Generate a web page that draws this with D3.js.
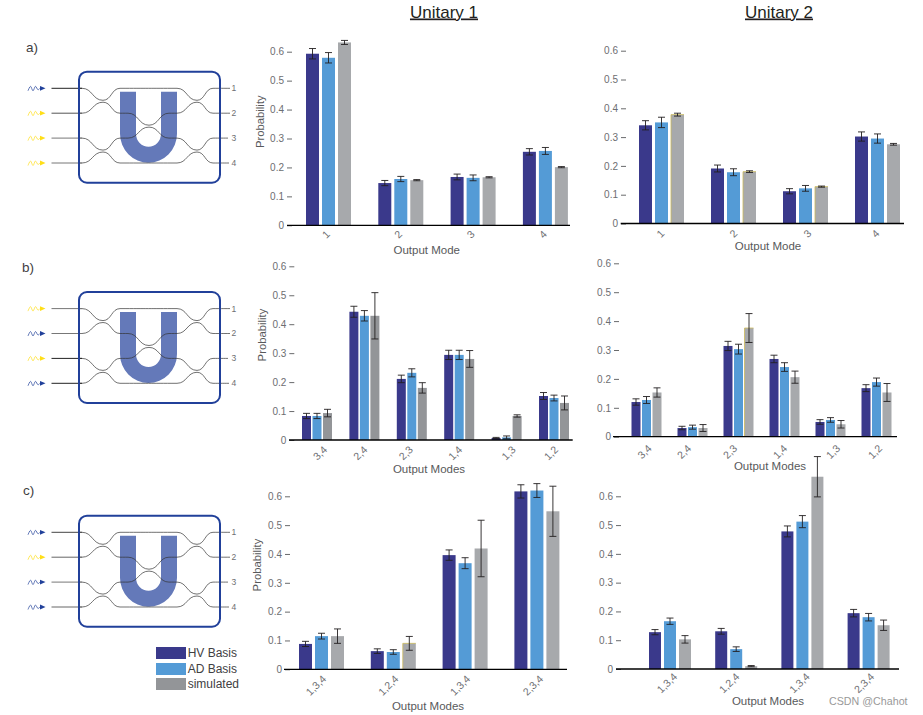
<!DOCTYPE html>
<html>
<head>
<meta charset="utf-8">
<script src="https://cdnjs.cloudflare.com/ajax/libs/d3/7.8.5/d3.min.js"></script>
<style>
  html, body { margin: 0; padding: 0; background: #fff; }
  svg { display: block; font-family: "Liberation Sans", Arial, sans-serif; }
</style>
</head>
<body>
<div id="chart"></div>
<script>
const seriesKeys = ['hv', 'ad', 'sim'];
const legendLabels = ['HV Basis', 'AD Basis', 'simulated'];
const yTicks = [0, 0.1, 0.2, 0.3, 0.4, 0.5, 0.6];

const singleModes = ['1', '2', '3', '4'];
const pairModes = ['3,4', '2,4', '2,3', '1,4', '1,3', '1,2'];
const tripleModes = ['1,3,4', '1,2,4', '1,3,4', '2,3,4'];

// row a
const a1Hv = [0.593, 0.146, 0.167, 0.254];
const a1Ad = [0.579, 0.160, 0.164, 0.257];
const a1Sim = [0.632, 0.156, 0.166, 0.201];
const a1HvErr = [0.018, 0.009, 0.010, 0.011];
const a1AdErr = [0.018, 0.009, 0.010, 0.012];
const a1SimErr = [0.007, 0.002, 0.002, 0.002];

const a2Hv = [0.341, 0.191, 0.112, 0.302];
const a2Ad = [0.351, 0.178, 0.122, 0.295];
const a2Sim = [0.378, 0.180, 0.128, 0.275];
const a2HvErr = [0.016, 0.012, 0.009, 0.016];
const a2AdErr = [0.018, 0.012, 0.010, 0.016];
const a2SimErr = [0.005, 0.003, 0.002, 0.003];

// row b
const b1Hv = [0.083, 0.443, 0.211, 0.294, 0.007, 0.152];
const b1Ad = [0.083, 0.429, 0.232, 0.294, 0.009, 0.145];
const b1Sim = [0.093, 0.429, 0.180, 0.280, 0.083, 0.128];
const b1HvErr = [0.009, 0.019, 0.013, 0.016, 0.002, 0.012];
const b1AdErr = [0.009, 0.018, 0.014, 0.016, 0.005, 0.010];
const b1SimErr = [0.013, 0.080, 0.018, 0.029, 0.004, 0.024];

const b2Hv = [0.120, 0.030, 0.314, 0.269, 0.051, 0.168];
const b2Ad = [0.127, 0.033, 0.303, 0.241, 0.058, 0.189];
const b2Sim = [0.153, 0.030, 0.376, 0.206, 0.043, 0.153];
const b2HvErr = [0.011, 0.006, 0.016, 0.013, 0.008, 0.012];
const b2AdErr = [0.012, 0.007, 0.017, 0.015, 0.008, 0.014];
const b2SimErr = [0.016, 0.012, 0.050, 0.021, 0.013, 0.031];

// row c
const c1Hv = [0.088, 0.063, 0.396, 0.617];
const c1Ad = [0.115, 0.060, 0.368, 0.620];
const c1Sim = [0.115, 0.090, 0.419, 0.548];
const c1HvErr = [0.009, 0.008, 0.018, 0.023];
const c1AdErr = [0.010, 0.008, 0.019, 0.024];
const c1SimErr = [0.025, 0.024, 0.098, 0.087];

const c2Hv = [0.128, 0.131, 0.478, 0.194];
const c2Ad = [0.166, 0.069, 0.512, 0.180];
const c2Sim = [0.103, 0.010, 0.668, 0.152];
const c2HvErr = [0.009, 0.010, 0.019, 0.013];
const c2AdErr = [0.011, 0.008, 0.021, 0.013];
const c2SimErr = [0.013, 0.002, 0.070, 0.018];

const colors = { hv: '#3a398b', ad: '#549bd6', sim: '#a7a9ac' };
const textGrey = '#6d6e71';

const width = 923, height = 715;

const svg = d3.select('#chart').append('svg')
  .attr('width', width)
  .attr('height', height);

function drawPanel(p) {
  const g = svg.append('g');

  const y = d3.scaleLinear().domain([0, 0.6]).range([p.y0, p.y6]);

  // groups are indexed because the triple labels repeat
  const x0 = d3.scaleBand()
    .domain(d3.range(p.labels.length))
    .range([p.c0 - p.step / 2, p.c0 + p.step * (p.labels.length - 0.5)]);
  const span = 3 * p.barW + 2 * p.gap;
  const x1 = d3.scaleBand()
    .domain(seriesKeys)
    .range([-span / 2, span / 2])
    .paddingInner(p.gap / (p.barW + p.gap));

  const rows = p.labels.map((label, i) => seriesKeys.map(k => ({
    key: k, group: i, value: p[k][i], err: p[k + 'Err'][i]
  })));

  const groups = g.selectAll('.group')
    .data(rows)
    .enter().append('g')
    .attr('class', 'group')
    .attr('transform', (d, i) => `translate(${x0(i) + x0.bandwidth() / 2},0)`);

  groups.selectAll('rect')
    .data(d => d)
    .enter().append('rect')
    .attr('x', d => x1(d.key))
    .attr('y', d => y(d.value))
    .attr('width', x1.bandwidth())
    .attr('height', d => p.y0 - y(d.value))
    .attr('fill', d => d.key === 'sim' && p.simColor ? p.simColor : colors[d.key]);

  // yellowish edge some simulated bars have in the original
  groups.filter((d, i) => (p.edged || []).includes(i))
    .append('path')
    .attr('fill', 'none')
    .attr('stroke', '#cdbb5c')
    .attr('stroke-width', 0.8)
    .attr('d', d => {
      const s = d[2];
      return `M${x1('sim')},${p.y0}V${y(s.value)}H${x1('sim') + x1.bandwidth()}`;
    });

  const errs = groups.selectAll('.err')
    .data(d => d)
    .enter().append('g')
    .attr('class', 'err')
    .attr('stroke', '#231f20')
    .attr('stroke-width', 0.9)
    .attr('transform', d => `translate(${x1(d.key) + x1.bandwidth() / 2},0)`);

  errs.append('line')
    .attr('y1', d => y(d.value + d.err))
    .attr('y2', d => y(d.value - d.err));
  errs.append('line')
    .attr('x1', -3.5).attr('x2', 3.5)
    .attr('y1', d => y(d.value + d.err))
    .attr('y2', d => y(d.value + d.err));
  errs.append('line')
    .attr('x1', -3.5).attr('x2', 3.5)
    .attr('y1', d => y(d.value - d.err))
    .attr('y2', d => y(d.value - d.err));

  // y axis sits right of the tick labels, no spine
  const yAxis = g.append('g')
    .attr('transform', `translate(${p.axisX},0)`)
    .call(d3.axisLeft(y)
      .tickValues(yTicks)
      .tickSize(5)
      .tickPadding(3)
      .tickFormat(d => d === 0 ? '0' : d3.format('.1f')(d)));
  yAxis.select('.domain').remove();
  yAxis.selectAll('.tick line').attr('stroke', '#58595b').attr('stroke-width', 0.9);
  yAxis.selectAll('.tick text')
    .attr('fill', textGrey)
    .style('font-size', '10px')
    .style('font-family', '"Liberation Sans", Arial, sans-serif');

  // x axis, labels are turned 45deg and shifted by hand
  const xAxis = g.append('g')
    .attr('transform', `translate(0,${p.y0})`)
    .call(d3.axisBottom(x0)
      .tickSize(0)
      .tickFormat(i => p.labels[i]));
  xAxis.select('.domain').remove();
  xAxis.selectAll('.tick text')
    .attr('y', 0)
    .attr('dy', '0.35em')
    .attr('text-anchor', 'middle')
    .attr('transform', (d, i) => `translate(${p.labelDx[i]},${p.labelDy}) rotate(-45)`)
    .attr('fill', textGrey)
    .style('font-size', '10.5px')
    .style('font-family', '"Liberation Sans", Arial, sans-serif');

  g.append('line')
    .attr('x1', p.lineX[0]).attr('x2', p.lineX[1])
    .attr('y1', p.y0).attr('y2', p.y0)
    .attr('stroke', '#000')
    .attr('stroke-width', 1.3);

  g.append('text')
    .attr('x', p.xTitle[0]).attr('y', p.xTitle[1])
    .attr('text-anchor', 'middle')
    .attr('fill', '#58595b')
    .style('font-size', '11.5px')
    .text(p.xLabel);

  if (p.yTitle) {
    g.append('text')
      .attr('transform', `translate(${p.yTitle[0]},${p.yTitle[1]}) rotate(-90)`)
      .attr('text-anchor', 'middle')
      .attr('fill', '#58595b')
      .style('font-size', '11.3px')
      .text('Probability');
  }
}

const bump = d3.line().curve(d3.curveBumpX);

function drawCircuit(c) {
  const g = svg.append('g').attr('transform', `translate(79,${c.top})`);
  const rowY = i => 16.6 + i * 24.9;
  const w = 141, h = 111;

  // big U under the wires
  g.append('path')
    .attr('fill', '#6479b9')
    .attr('d', 'M41,20 H57 V62 A12.5,13 0 0 0 82,62 V20 H98 V62 A28.5,29 0 0 1 41,62 Z');

  const leftTop = [[0, 0], [3, 0], [24, 12], [41, 0], [98, 0], [118, 12], [134, 0], [151, 0]];
  const leftMid2 = [[0, 1], [3, 1], [24, -11], [41, 1], [49, 1], [70, 12], [90, 1], [98, 1], [118, -11], [134, 1], [151, 1]];
  const leftMid3 = [[0, 2], [3, 2], [24, 12], [41, 2], [49, 2], [70, -11], [90, 2], [98, 2], [118, 12], [134, 2], [149, 2]];
  const leftBot = [[0, 3], [3, 3], [24, -11], [41, 3], [98, 3], [118, -11], [134, 3], [150, 3]];

  // second value of a bend is an offset from the wire's own row
  const wires = [leftTop, leftMid2, leftMid3, leftBot].map((pts, row) => pts.map(pt => {
    const isRow = pt[1] === row;
    return [pt[0], isRow ? rowY(row) : rowY(row) + pt[1]];
  }));

  g.selectAll('.wire')
    .data(wires)
    .enter().append('path')
    .attr('class', 'wire')
    .attr('fill', 'none')
    .attr('stroke', '#333')
    .attr('stroke-width', 0.7)
    .attr('d', d => bump(d));

  // lead in wires
  g.selectAll('.lead')
    .data(c.leads)
    .enter().append('line')
    .attr('class', 'lead')
    .attr('x1', -27.5).attr('x2', 3)
    .attr('y1', (d, i) => rowY(i)).attr('y2', (d, i) => rowY(i))
    .attr('stroke', d => d)
    .attr('stroke-width', 1);

  // photon squiggles
  const squiggle = d3.line().curve(d3.curveCatmullRom);
  const ph = g.selectAll('.photon')
    .data(c.photons)
    .enter().append('g')
    .attr('class', 'photon')
    .attr('transform', (d, i) => `translate(-51,${rowY(i)})`);
  ph.append('path')
    .attr('fill', 'none')
    .attr('stroke', d => d)
    .attr('stroke-width', 0.7)
    .attr('d', squiggle([[0, 2.5], [2.5, -2], [5, 2.5], [7.5, -2], [10, 1.5], [12, 0]]));
  ph.append('path')
    .attr('fill', d => d)
    .attr('d', 'M12,-2.4 L17.5,0 L12,2.4 Z');

  g.append('rect')
    .attr('width', w).attr('height', h)
    .attr('rx', 8).attr('ry', 8)
    .attr('fill', 'none')
    .attr('stroke', '#21409a')
    .attr('stroke-width', 2);

  g.selectAll('.out')
    .data(singleModes)
    .enter().append('text')
    .attr('class', 'out')
    .attr('x', 152.5)
    .attr('y', (d, i) => rowY(i))
    .attr('dy', '0.35em')
    .attr('fill', textGrey)
    .style('font-size', '8.5px')
    .text(d => d);

  svg.append('text')
    .attr('x', c.letter[0]).attr('y', c.letter[1])
    .attr('fill', '#414042')
    .style('font-size', '13.5px')
    .text(c.name);
}

const blue = '#21409a', yellow = '#ffde17';

[
  { name: 'a)', top: 71.7, letter: [26, 52], photons: [blue, yellow, yellow, yellow], leads: ['#222', '#555', '#777', '#777'] },
  { name: 'b)', top: 292, letter: [22, 272], photons: [yellow, blue, yellow, blue], leads: ['#777', '#777', '#222', '#222'] },
  { name: 'c)', top: 515.7, letter: [23, 495], photons: [blue, yellow, blue, blue], leads: ['#444', '#666', '#777', '#666'] }
].forEach(drawCircuit);

[
  { hv: a1Hv, ad: a1Ad, sim: a1Sim, hvErr: a1HvErr, adErr: a1AdErr, simErr: a1SimErr,
    labels: singleModes, xLabel: 'Output Mode',
    y0: 225.3, y6: 51.7, c0: 328.5, step: 72.3, barW: 13, gap: 3, axisX: 292, lineX: [287, 570],
    labelDx: [-2.5, -2.5, -2.5, -2.5], labelDy: 9, xTitle: [426.7, 254], yTitle: [264, 121.7] },
  { hv: a2Hv, ad: a2Ad, sim: a2Sim, hvErr: a2HvErr, adErr: a2AdErr, simErr: a2SimErr,
    labels: singleModes, xLabel: 'Output Mode', edged: [0, 1, 2],
    y0: 223.5, y6: 50.7, c0: 661.5, step: 72, barW: 13, gap: 3, axisX: 626, lineX: [620.7, 904],
    labelDx: [-1, 0, 2, -2], labelDy: 10, xTitle: [768, 249.5] },
  { hv: b1Hv, ad: b1Ad, sim: b1Sim, hvErr: b1HvErr, adErr: b1AdErr, simErr: b1SimErr,
    labels: pairModes, xLabel: 'Output Modes', simColor: '#939598',
    y0: 440, y6: 266.3, c0: 317, step: 47.4, barW: 9, gap: 1.5, axisX: 294.3, lineX: [289, 572.7],
    labelDx: [3, -4, -6, -4, 2, -3], labelDy: 13, xTitle: [429, 473], yTitle: [265.7, 335] },
  { hv: b2Hv, ad: b2Ad, sim: b2Sim, hvErr: b2HvErr, adErr: b2AdErr, simErr: b2SimErr,
    labels: pairModes, xLabel: 'Output Modes', edged: [2],
    y0: 436.7, y6: 263.3, c0: 646.5, step: 46, barW: 9, gap: 1.5, axisX: 619, lineX: [613, 897],
    labelDx: [-2, -8.5, -8.5, -4.5, 2.5, -1.5], labelDy: 15, xTitle: [770, 470] },
  { hv: c1Hv, ad: c1Ad, sim: c1Sim, hvErr: c1HvErr, adErr: c1AdErr, simErr: c1SimErr,
    labels: tripleModes, xLabel: 'Output Modes', edged: [1],
    y0: 669.3, y6: 496.3, c0: 321.5, step: 71.8, barW: 13, gap: 3, axisX: 290, lineX: [284, 567],
    labelDx: [-5.5, -5, -5, -4], labelDy: 16, xTitle: [428, 710], yTitle: [260.7, 565] },
  { hv: c2Hv, ad: c2Ad, sim: c2Sim, hvErr: c2HvErr, adErr: c2AdErr, simErr: c2SimErr,
    labels: tripleModes, xLabel: 'Output Modes',
    y0: 669, y6: 496.3, c0: 670, step: 66.2, barW: 12, gap: 3, axisX: 621, lineX: [616, 899],
    labelDx: [-3, -7, -3, -4.5], labelDy: 14, xTitle: [768, 705] }
].forEach(drawPanel);

// column titles
[['Unitary 1', 444], ['Unitary 2', 779]].forEach(t => {
  svg.append('text')
    .attr('x', t[1]).attr('y', 17.5)
    .attr('text-anchor', 'middle')
    .attr('fill', '#231f20')
    .attr('text-decoration', 'underline')
    .style('font-size', '17px')
    .text(t[0]);
});

// legend
const legendY = [647, 663, 678];
const legendText = [656.7, 673, 687.7];
const legendFill = [colors.hv, colors.ad, '#939598'];
const legend = svg.append('g');
legend.selectAll('rect')
  .data(legendLabels)
  .enter().append('rect')
  .attr('x', 156)
  .attr('y', (d, i) => legendY[i])
  .attr('width', 30)
  .attr('height', 12)
  .attr('fill', (d, i) => legendFill[i]);
legend.selectAll('text')
  .data(legendLabels)
  .enter().append('text')
  .attr('x', 187.7)
  .attr('y', (d, i) => legendText[i])
  .attr('fill', '#414042')
  .style('font-size', '12px')
  .text(d => d);

svg.append('text')
  .attr('x', 829).attr('y', 705)
  .attr('fill', '#999')
  .style('font-size', '10.7px')
  .text('CSDN @Chahot');
</script>
</body>
</html>
